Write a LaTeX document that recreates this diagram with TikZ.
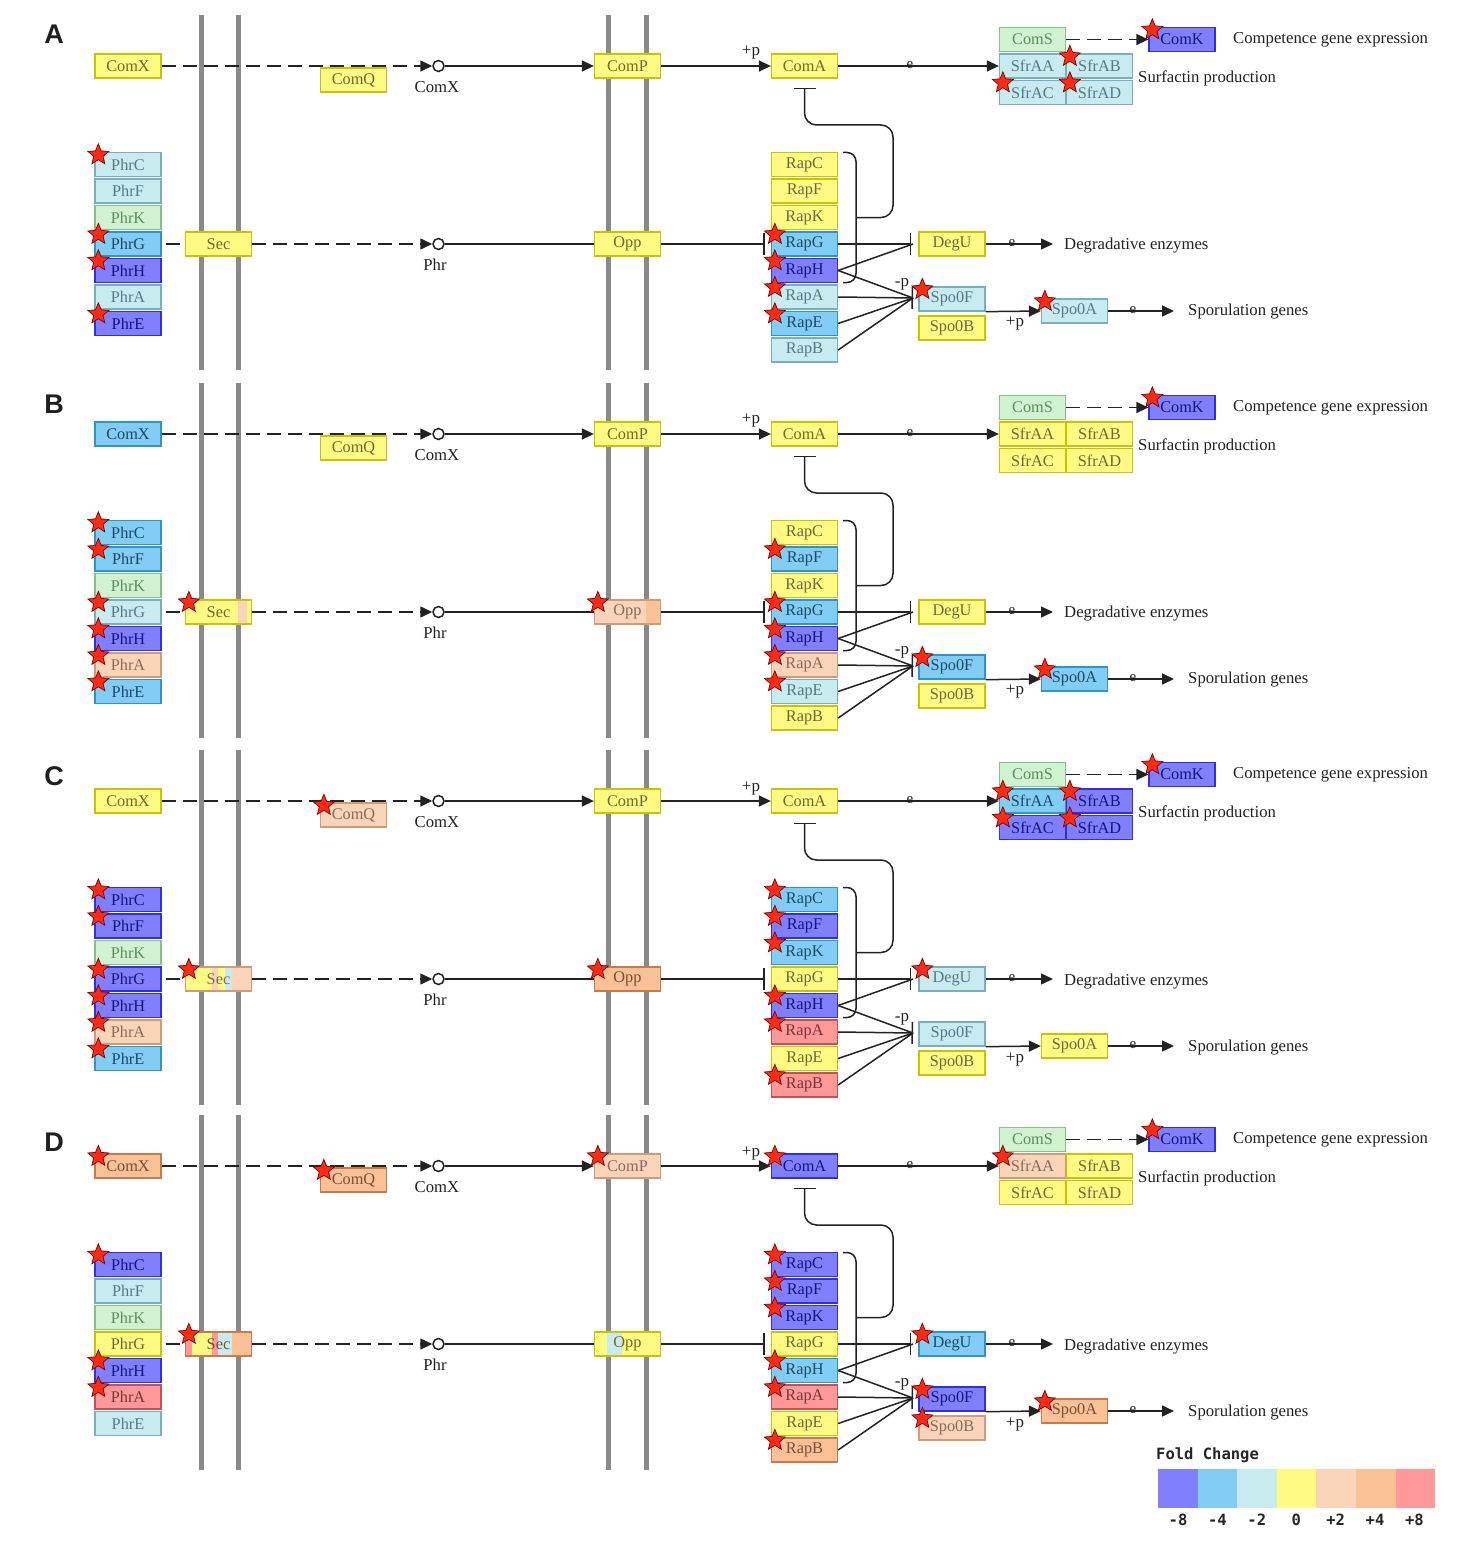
\documentclass[tikz,border=0pt]{standalone}
\usepackage{fontspec}
\setmainfont{Liberation Serif}
\newfontfamily\letterfont{Liberation Sans}
\newfontfamily\legendfont{DejaVu Sans Mono}
\usetikzlibrary{shapes.geometric,arrows.meta,calc}
\pgfdeclarelayer{front}
\pgfsetlayers{main,front}

\definecolor{fm8}{HTML}{8080FF}\definecolor{bm8}{HTML}{3030E0}\definecolor{tm8}{HTML}{15157A}
\definecolor{fm4}{HTML}{82CDF5}\definecolor{bm4}{HTML}{2F95C8}\definecolor{tm4}{HTML}{1A4A66}
\definecolor{fm2}{HTML}{C8EBF0}\definecolor{bm2}{HTML}{78AEBE}\definecolor{tm2}{HTML}{557A86}
\definecolor{fz}{HTML}{FFFA82}\definecolor{bz}{HTML}{C8C400}\definecolor{tz}{HTML}{6A6A3A}
\definecolor{fp2}{HTML}{FAD4B9}\definecolor{bp2}{HTML}{D29A78}\definecolor{tp2}{HTML}{8A6A5A}
\definecolor{fp4}{HTML}{FAC096}\definecolor{bp4}{HTML}{C87A48}\definecolor{tp4}{HTML}{7A5038}
\definecolor{fp8}{HTML}{FF9999}\definecolor{bp8}{HTML}{C85050}\definecolor{tp8}{HTML}{7A3535}
\definecolor{fgr}{HTML}{D0F2D0}\definecolor{bgr}{HTML}{88BE88}\definecolor{tgr}{HTML}{5E8E5E}
\definecolor{memb}{HTML}{8A8A8A}
\definecolor{linec}{HTML}{222222}
\definecolor{starfill}{HTML}{FF2A12}
\definecolor{starline}{HTML}{7A0000}

\tikzset{
 gene/.style={rectangle, draw, inner sep=0pt, minimum width=66pt, minimum height=24pt, line width=1.3pt, font=\fontsize{16.3}{16}\selectfont},
 vm8/.style={fill=fm8, draw=bm8, text=tm8},
 vm4/.style={fill=fm4, draw=bm4, text=tm4},
 vm2/.style={fill=fm2, draw=bm2, text=tm2},
 vz/.style={fill=fz, draw=bz, text=tz},
 vp2/.style={fill=fp2, draw=bp2, text=tp2},
 vp4/.style={fill=fp4, draw=bp4, text=tp4},
 vp8/.style={fill=fp8, draw=bp8, text=tp8},
 vg/.style={fill=fgr, draw=bgr, text=tgr},
 vzo/.style={draw=bz, text=tz},
 vp2o/.style={draw=bp2, text=tp2},
 vp4o/.style={draw=bp4, text=tp4},
 starmark/.style={star, star points=5, star point ratio=2.25, minimum size=22pt, inner sep=0pt, fill=starfill, draw=starline, line width=0.7pt},
 wire/.style={draw=linec, line width=1.5pt},
 dwire/.style={wire, dash pattern=on 14pt off 7pt},
 tip/.style={-{Triangle[length=12pt,width=11pt]}},
 blunt/.style={-{Bar[width=22pt,line width=1.5pt]}},
 ring/.style={circle, draw=linec, fill=white, line width=1.5pt, minimum size=11pt, inner sep=0pt},
 lab/.style={font=\fontsize{16.7}{17}\selectfont, inner sep=0pt, text=linec},
 plab/.style={font=\fontsize{17}{17}\selectfont, inner sep=0pt, text=linec},
 emark/.style={font=\fontsize{15}{15}\selectfont, inner sep=0pt, text=linec},
 membr/.style={draw=memb, line width=5pt},
 panelletter/.style={font=\letterfont\bfseries\fontsize{27}{27}\selectfont, inner sep=0pt, text=black!88},
 legfont/.style={font=\legendfont\bfseries\fontsize{15.5}{16}\selectfont, inner sep=0pt, text=black!85},
 swatch/.style={rectangle, inner sep=0pt, minimum width=39.6pt, minimum height=39pt},
}

\newcommand\gn[5]{\node[gene,#4] (#1) at (#2,#3) {#5};}
\newcommand\gs[5]{\gn{#1}{#2}{#3}{#4}{#5}%
  \begin{pgfonlayer}{front}\node[starmark] (#1s) at ($(#1.north west)+(4,3)$) {};\end{pgfonlayer}}
\newcommand\seg[4]{\fill[#1] (#2,#4-12) rectangle (#3,#4+12);}
\newcommand\membranes{\foreach \mx in {201,238,608.5,646.5}{\draw[membr] (\mx,15) -- (\mx,370);}}

\newcommand\wiring[2]{%
 \node[panelletter] (letter) at (54,#2) {#1};
 \node[ring] (cx) at (438.5,66) {};
 \node[ring] (cp) at (438.5,244) {};
 \node[lab] (cxl) at (437,87) {ComX};
 \node[lab] (cpl) at (435,265) {Phr};
 \node[lab,anchor=west] (comp) at (1233,40) {Competence gene expression};
 \node[lab,anchor=west] (surf) at (1138,78) {Surfactin production};
 \node[lab,anchor=west] (degr) at (1064,246) {Degradative enzymes};
 \node[lab,anchor=west] (spor) at (1188,312) {Sporulation genes};
 \node[plab] (p1) at (751,53) {+p};
 \node[plab] (p2) at (902,284) {-p};
 \node[plab] (p3) at (1015,324) {+p};
 \node[emark] (e1) at (910,65) {e};
 \node[emark] (e2) at (1012,243) {e};
 \node[emark] (e3) at (1133,310) {e};
 \coordinate (degT) at (913,244);
 \coordinate (spoT) at (913,298);
 \coordinate (brk) at (856,217.5);
 \draw[dwire,tip] (ComX) -- (cx);
 \draw[wire,tip] (cx) -- (ComP);
 \draw[wire,tip] (ComP) -- (ComA);
 \draw[wire,tip] (ComA) -- (SfrAA);
 \draw[dwire,tip] (ComS) -- (ComK);
 \draw[dwire,shorten <=4pt] (PhrG) -- (Sec);
 \draw[dwire,tip] (Sec) -- (cp);
 \draw[wire] (cp) -- (Opp);
 \draw[wire,blunt,shorten >=6pt] (Opp) -- (RapG);
 \draw[wire,blunt,shorten >=7pt] (RapG) -- (DegU);
 \draw[wire] (RapH.east) -- (degT);
 \draw[wire] (RapH.east) -- (spoT);
 \draw[wire,blunt] (RapA.east) -- (spoT);
 \draw[wire] (RapE.east) -- (spoT);
 \draw[wire] (RapB.east) -- (spoT);
 \draw[wire,tip,shorten >=11pt] (DegU.east) -- (degr.west |- DegU.east);
 \draw[wire,tip] (Spo0F.south east) -- (Spo0A.west);
 \draw[wire,tip,shorten >=14pt] (Spo0A.east) -- (spor.west |- Spo0A.east);
 \draw[wire,rounded corners=9pt] (843,152.5) -- (856,152.5) -- (856,282.5) -- (843,282.5);
 \draw[wire,blunt,rounded corners=12pt,shorten >=9pt] (brk) -- (893,217.5) -- (893,125) -- (804.5,125) -- (ComA.south);
}

\begin{document}
\begin{tikzpicture}[x=1pt,y=-1pt]
\useasboundingbox[fill=white] (0,0) rectangle (1480,1549);

% ---------------- Panel A ----------------
\begin{scope}[name prefix=a-]
\membranes
\gn{ComX}{128}{66}{vz}{ComX}
\gn{ComQ}{353.5}{80}{vz}{ComQ}
\gn{ComP}{627.5}{66}{vz}{ComP}
\gn{ComA}{804.5}{66}{vz}{ComA}
\gn{ComS}{1032.5}{39.5}{vg}{ComS}
\gs{ComK}{1182}{39.5}{vm8}{ComK}
\gn{SfrAA}{1032.5}{66}{vm2}{SfrAA}
\gs{SfrAB}{1099.5}{66}{vm2}{SfrAB}
\gs{SfrAC}{1032.5}{92.5}{vm2}{SfrAC}
\gs{SfrAD}{1099.5}{92.5}{vm2}{SfrAD}
\gs{PhrC}{128}{164.5}{vm2}{PhrC}
\gn{PhrF}{128}{191}{vm2}{PhrF}
\gn{PhrK}{128}{217.5}{vg}{PhrK}
\gs{PhrG}{128}{244}{vm4}{PhrG}
\gs{PhrH}{128}{270.5}{vm8}{PhrH}
\gn{PhrA}{128}{297}{vm2}{PhrA}
\gs{PhrE}{128}{323.5}{vm8}{PhrE}
\gn{Sec}{218.5}{244}{vz}{Sec}
\gn{Opp}{627.5}{244}{vz}{Opp}
\gn{RapC}{804.5}{164.5}{vz}{RapC}
\gn{RapF}{804.5}{191}{vz}{RapF}
\gn{RapK}{804.5}{217.5}{vz}{RapK}
\gs{RapG}{804.5}{244}{vm4}{RapG}
\gs{RapH}{804.5}{270.5}{vm8}{RapH}
\gs{RapA}{804.5}{297}{vm2}{RapA}
\gs{RapE}{804.5}{323.5}{vm4}{RapE}
\gn{RapB}{804.5}{350}{vm2}{RapB}
\gn{DegU}{952}{244}{vz}{DegU}
\gs{Spo0F}{952}{299}{vm2}{Spo0F}
\gn{Spo0B}{952}{328}{vz}{Spo0B}
\gs{Spo0A}{1074.5}{311}{vm2}{Spo0A}
\wiring{A}{34}
\end{scope}

% ---------------- Panel B ----------------
\begin{scope}[name prefix=b-, shift={(0,368)}]
\membranes
\gn{ComX}{128}{66}{vm4}{ComX}
\gn{ComQ}{353.5}{80}{vz}{ComQ}
\gn{ComP}{627.5}{66}{vz}{ComP}
\gn{ComA}{804.5}{66}{vz}{ComA}
\gn{ComS}{1032.5}{39.5}{vg}{ComS}
\gs{ComK}{1182}{39.5}{vm8}{ComK}
\gn{SfrAA}{1032.5}{66}{vz}{SfrAA}
\gn{SfrAB}{1099.5}{66}{vz}{SfrAB}
\gn{SfrAC}{1032.5}{92.5}{vz}{SfrAC}
\gn{SfrAD}{1099.5}{92.5}{vz}{SfrAD}
\gs{PhrC}{128}{164.5}{vm4}{PhrC}
\gs{PhrF}{128}{191}{vm4}{PhrF}
\gn{PhrK}{128}{217.5}{vg}{PhrK}
\gs{PhrG}{128}{244}{vm2}{PhrG}
\gs{PhrH}{128}{270.5}{vm8}{PhrH}
\gs{PhrA}{128}{297}{vp2}{PhrA}
\gs{PhrE}{128}{323.5}{vm4}{PhrE}
\seg{fz}{185.5}{251.5}{244}\seg{fp2}{238}{247}{244}
\gs{Sec}{218.5}{244}{vzo}{Sec}
\seg{fp2}{594.5}{660.5}{244}\seg{fp4}{646}{660.5}{244}
\gs{Opp}{627.5}{244}{vp2o}{Opp}
\gn{RapC}{804.5}{164.5}{vz}{RapC}
\gs{RapF}{804.5}{191}{vm4}{RapF}
\gn{RapK}{804.5}{217.5}{vz}{RapK}
\gs{RapG}{804.5}{244}{vm4}{RapG}
\gs{RapH}{804.5}{270.5}{vm8}{RapH}
\gs{RapA}{804.5}{297}{vp2}{RapA}
\gs{RapE}{804.5}{323.5}{vm2}{RapE}
\gn{RapB}{804.5}{350}{vz}{RapB}
\gn{DegU}{952}{244}{vz}{DegU}
\gs{Spo0F}{952}{299}{vm4}{Spo0F}
\gn{Spo0B}{952}{328}{vz}{Spo0B}
\gs{Spo0A}{1074.5}{311}{vm4}{Spo0A}
\wiring{B}{36}
\end{scope}

% ---------------- Panel C ----------------
\begin{scope}[name prefix=c-, shift={(0,735)}]
\membranes
\gn{ComX}{128}{66}{vz}{ComX}
\gs{ComQ}{353.5}{80}{vp2}{ComQ}
\gn{ComP}{627.5}{66}{vz}{ComP}
\gn{ComA}{804.5}{66}{vz}{ComA}
\gn{ComS}{1032.5}{39.5}{vg}{ComS}
\gs{ComK}{1182}{39.5}{vm8}{ComK}
\gs{SfrAA}{1032.5}{66}{vm4}{SfrAA}
\gs{SfrAB}{1099.5}{66}{vm8}{SfrAB}
\gs{SfrAC}{1032.5}{92.5}{vm8}{SfrAC}
\gs{SfrAD}{1099.5}{92.5}{vm8}{SfrAD}
\gs{PhrC}{128}{164.5}{vm8}{PhrC}
\gs{PhrF}{128}{191}{vm8}{PhrF}
\gn{PhrK}{128}{217.5}{vg}{PhrK}
\gs{PhrG}{128}{244}{vm8}{PhrG}
\gs{PhrH}{128}{270.5}{vm8}{PhrH}
\gs{PhrA}{128}{297}{vp2}{PhrA}
\gs{PhrE}{128}{323.5}{vm4}{PhrE}
\seg{fz}{185.5}{251.5}{244}\seg{fp2}{212}{218}{244}\seg{fm2}{225}{232}{244}\seg{fp2}{232}{251.5}{244}
\gs{Sec}{218.5}{244}{vp2o}{Sec}
\gs{Opp}{627.5}{244}{vp4}{Opp}
\gs{RapC}{804.5}{164.5}{vm4}{RapC}
\gs{RapF}{804.5}{191}{vm8}{RapF}
\gs{RapK}{804.5}{217.5}{vm4}{RapK}
\gn{RapG}{804.5}{244}{vz}{RapG}
\gs{RapH}{804.5}{270.5}{vm8}{RapH}
\gs{RapA}{804.5}{297}{vp8}{RapA}
\gn{RapE}{804.5}{323.5}{vz}{RapE}
\gs{RapB}{804.5}{350}{vp8}{RapB}
\gs{DegU}{952}{244}{vm2}{DegU}
\gn{Spo0F}{952}{299}{vm2}{Spo0F}
\gn{Spo0B}{952}{328}{vz}{Spo0B}
\gn{Spo0A}{1074.5}{311}{vz}{Spo0A}
\wiring{C}{41}
\end{scope}

% ---------------- Panel D ----------------
\begin{scope}[name prefix=d-, shift={(0,1100)}]
\membranes
\gs{ComX}{128}{66}{vp4}{ComX}
\gs{ComQ}{353.5}{80}{vp4}{ComQ}
\gs{ComP}{627.5}{66}{vp2}{ComP}
\gs{ComA}{804.5}{66}{vm8}{ComA}
\gn{ComS}{1032.5}{39.5}{vg}{ComS}
\gs{ComK}{1182}{39.5}{vm8}{ComK}
\gs{SfrAA}{1032.5}{66}{vp2}{SfrAA}
\gn{SfrAB}{1099.5}{66}{vz}{SfrAB}
\gn{SfrAC}{1032.5}{92.5}{vz}{SfrAC}
\gn{SfrAD}{1099.5}{92.5}{vz}{SfrAD}
\gs{PhrC}{128}{164.5}{vm8}{PhrC}
\gn{PhrF}{128}{191}{vm2}{PhrF}
\gn{PhrK}{128}{217.5}{vg}{PhrK}
\gn{PhrG}{128}{244}{vz}{PhrG}
\gs{PhrH}{128}{270.5}{vm8}{PhrH}
\gs{PhrA}{128}{297}{vp8}{PhrA}
\gn{PhrE}{128}{323.5}{vm2}{PhrE}
\seg{fz}{185.5}{251.5}{244}\seg{fp8}{185.5}{192}{244}\seg{fp8}{212}{218}{244}\seg{fm2}{218}{232}{244}\seg{fp4}{232}{251.5}{244}
\gs{Sec}{218.5}{244}{vp4o}{Sec}
\seg{fz}{594.5}{660.5}{244}\seg{fm2}{607}{622}{244}
\gn{Opp}{627.5}{244}{vzo}{Opp}
\gs{RapC}{804.5}{164.5}{vm8}{RapC}
\gs{RapF}{804.5}{191}{vm8}{RapF}
\gs{RapK}{804.5}{217.5}{vm8}{RapK}
\gn{RapG}{804.5}{244}{vz}{RapG}
\gs{RapH}{804.5}{270.5}{vm4}{RapH}
\gs{RapA}{804.5}{297}{vp8}{RapA}
\gn{RapE}{804.5}{323.5}{vz}{RapE}
\gs{RapB}{804.5}{350}{vp4}{RapB}
\gs{DegU}{952}{244}{vm4}{DegU}
\gs{Spo0F}{952}{299}{vm8}{Spo0F}
\gs{Spo0B}{952}{328}{vp2}{Spo0B}
\gs{Spo0A}{1074.5}{311}{vp4}{Spo0A}
\wiring{D}{42}
\end{scope}

% ---------------- Legend ----------------
\node[legfont, anchor=west] (fc) at (1156,1455) {Fold Change};
\foreach \i/\c/\t in {0/fm8/-8, 1/fm4/-4, 2/fm2/-2, 3/fz/0, 4/fp2/+2, 5/fp4/+4, 6/fp8/+8} {
  \node[swatch, fill=\c] (sw\i) at (1177.8+39.6*\i,1488.5) {};
  \node[legfont] (sl\i) at (1178+39.4*\i,1520) {\t};
}
\end{tikzpicture}
\end{document}
